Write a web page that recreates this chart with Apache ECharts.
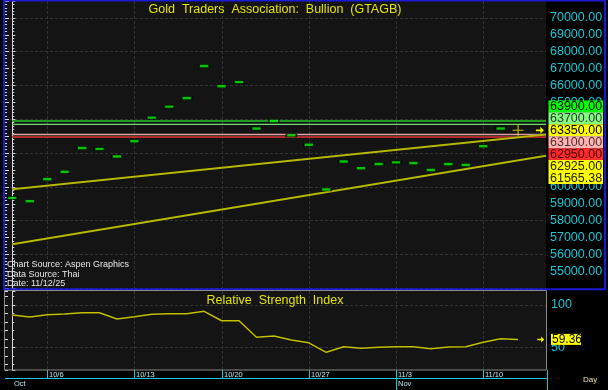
<!DOCTYPE html>
<html><head><meta charset="utf-8">
<script src="https://cdn.jsdelivr.net/npm/echarts@6/dist/echarts.min.js"></script>
<style>html,body{margin:0;padding:0;background:#000;} #c{width:608px;height:390px;}</style>
</head><body><div id="c"></div>
<script>
// ---------- data ----------
const dates = ['10/2','10/3','10/6','10/7','10/8','10/9','10/10','10/13','10/14','10/15','10/16','10/17',
  '10/20','10/21','10/22','10/23','10/24','10/27','10/28','10/29','10/30','10/31',
  '11/3','11/4','11/5','11/6','11/7','11/10','11/11','11/12'];
const prices = [59350, 59150, 60450, 60900, 62300, 62250, 61800, 62700, 64100, 64750, 65250, 67150,
  65950, 66200, 63450, 63900, 63050, 62500, 59850, 61500, 61100, 61350, 61450, 61400, 61000, 61350,
  61300, 62400, 63450, 63350];
const rsi = [88.2, 85.8, 88.5, 89.4, 90.9, 90.9, 83.5, 86.2, 89.0, 89.7, 89.7, 92.5, 81.4, 81.4,
  61.8, 63.4, 58.6, 55.3, 44.1, 50.7, 48.8, 50.0, 50.7, 50.7, 48.3, 50.4, 50.7, 55.9, 60.2, 59.36];
const levels = [63900, 63700, 63100, 62950];
const upperTrend = [[0, 59860], [30.6, 63095]];
const lowerTrend = [[0, 56600], [30.6, 61840]];
const labelValues = [63900, 63700, 63350, 63100, 62950, 62925, 61565.38];
const lastPrice = 63350;
const lastRsi = 59.36;
const weekTickLabels = ['10/6','10/13','10/20','10/27','11/3','11/10'];
const monthStartDates = ['10/2','11/3'];
const monthLabels = ['Oct','Nov'];
const titleText = 'Gold  Traders  Association:  Bullion  (GTAGB)';
const rsiTitle = 'Relative  Strength  Index';
const sourceLines = ['Chart Source: Aspen Graphics', 'Data Source: Thai', 'Date: 11/12/25'];

// ---------- styles ----------
const CYAN = '#18c6d6';
const FONT = '"Liberation Sans", Arial, sans-serif';
const xMin = -0.4186, xMax = 30.6;
const levelColors = ['#1e9a1e', '#6cdc6c', '#e0a0a0', '#b02828'];
const levelWidths = [2, 1.2, 1.5, 2];
const boxFill = ['#00ff00', '#80ff80', '#ffff00', '#ffb4b4', '#ff2a2a', '#ffff00', '#ffff00'];
const boxText = ['#000', '#333', '#000', '#503030', '#400000', '#202000', '#202000'];
const plusPath = 'path://M0,4.5L10,4.5L10,5.5L0,5.5ZM4.5,0L5.5,0L5.5,10L4.5,10Z';
const arrowPath = 'path://M0,3L5,3L5,0L9,4L5,8L5,5L0,5Z';

const weekIdx = weekTickLabels.map(d => dates.indexOf(d));
const monthIdx = monthStartDates.map(d => dates.indexOf(d));

const chart = echarts.init(document.getElementById('c'), null, {renderer: 'canvas'});

const series = [];
levels.forEach((v, k) => {
  series.push({type: 'line', xAxisIndex: 0, yAxisIndex: 0, data: [[0, v], [xMax, v]], symbol: 'none',
    lineStyle: {color: levelColors[k], width: levelWidths[k]}, z: 2, silent: true});
});
[upperTrend, lowerTrend].forEach(t => {
  series.push({type: 'line', xAxisIndex: 0, yAxisIndex: 0, data: t, symbol: 'none',
    lineStyle: {color: '#b8b800', width: 2, shadowColor: 'rgba(0,0,0,0.6)', shadowBlur: 1}, z: 3, silent: true});
});
series.push({type: 'custom', xAxisIndex: 0, yAxisIndex: 0, z: 1, silent: true,
  data: weekIdx.map(i => [i, 60000]),
  renderItem: (params, api) => {
    const x = Math.round(api.coord([api.value(0), 60000])[0]) + 0.5;
    const cs = params.coordSys;
    return {type: 'line', shape: {x1: x, y1: cs.y, x2: x, y2: cs.y + cs.height},
      style: {stroke: '#343434', lineWidth: 1, lineDash: [3, 2]}};
  }});
series.push({type: 'scatter', xAxisIndex: 0, yAxisIndex: 0, z: 5,
  data: prices.map((p, i) => i === prices.length - 1
    ? {value: [i, p], symbol: plusPath, symbolSize: 11, itemStyle: {color: '#f0f000', borderWidth: 0}}
    : {value: [i, p]}),
  symbol: 'rect', symbolSize: [10, 3],
  itemStyle: {color: '#00f000', borderColor: '#000', borderWidth: 1},
  markPoint: {symbol: arrowPath, symbolSize: [8, 7], silent: true, label: {show: false},
    itemStyle: {color: '#f0f000'}, data: [{coord: [xMax - 0.35, lastPrice]}]}
});
series.push({type: 'line', xAxisIndex: 1, yAxisIndex: 2, data: rsi.map((v, i) => [i, v]), symbol: 'none',
  lineStyle: {color: '#c4c000', width: 1.5, shadowColor: 'rgba(0,0,0,0.8)', shadowBlur: 1}, z: 4,
  markPoint: {symbol: arrowPath, symbolSize: [7, 6], silent: true, label: {show: false},
    itemStyle: {color: '#f0f000'}, data: [{coord: [xMax - 0.3, lastRsi]}]}
});
series.push({type: 'custom', xAxisIndex: 1, yAxisIndex: 2, z: 1, silent: true, clip: false,
  data: weekIdx.map(i => [i, 50]),
  renderItem: (params, api) => {
    const x = Math.round(api.coord([api.value(0), 50])[0]) + 0.5;
    const cs = params.coordSys;
    const yb = cs.y + cs.height;
    return {type: 'group', children: [
      {type: 'line', shape: {x1: x, y1: cs.y, x2: x, y2: yb}, style: {stroke: '#343434', lineWidth: 1, lineDash: [3, 2]}},
      {type: 'line', shape: {x1: x, y1: yb, x2: x, y2: yb + 8.5}, style: {stroke: CYAN, lineWidth: 1}},
      {type: 'text', x: x + 1.5, y: yb + 5, style: {text: weekTickLabels[params.dataIndex], fill: '#b8e4ee',
        font: '7.5px ' + FONT, textAlign: 'left', textVerticalAlign: 'middle'}}
    ]};
  }});
series.push({type: 'custom', xAxisIndex: 1, yAxisIndex: 2, z: 1, silent: true, clip: false,
  data: monthIdx.map(i => [i, 50]),
  renderItem: (params, api) => {
    const x = Math.round(api.coord([api.value(0), 50])[0]) + 0.5;
    const cs = params.coordSys;
    const yb = cs.y + cs.height;
    const ch = [{type: 'text', x: x + 1.5, y: yb + 13.5, style: {text: monthLabels[params.dataIndex], fill: '#b8e4ee',
        font: '7.5px ' + FONT, textAlign: 'left', textVerticalAlign: 'middle'}}];
    if (params.dataIndex > 0) ch.push({type: 'line', shape: {x1: x, y1: yb + 8.5, x2: x, y2: yb + 20}, style: {stroke: CYAN, lineWidth: 1}});
    return {type: 'group', children: ch};
  }});

const tickStyle = {color: '#d8d8d8', width: 1};
const option = {
  backgroundColor: '#000',
  animation: false,
  grid: [
    {left: 5, right: 62, top: 1, height: 287.3, show: true, backgroundColor: '#141414', borderWidth: 0},
    {left: 5, right: 62, top: 291, height: 79, show: true, backgroundColor: '#141414', borderWidth: 0}
  ],
  xAxis: [
    {type: 'value', gridIndex: 0, min: xMin, max: xMax, show: false},
    {type: 'value', gridIndex: 1, min: xMin, max: xMax, show: false}
  ],
  yAxis: [
    {type: 'value', gridIndex: 0, position: 'right', min: 54000, max: 71000, interval: 1000,
      axisLine: {show: true, lineStyle: tickStyle},
      axisTick: {show: true, length: 3, lineStyle: tickStyle},
      minorTick: {show: true, splitNumber: 5, length: 2, lineStyle: tickStyle},
      axisLabel: {color: CYAN, fontSize: 12.5, fontFamily: FONT, margin: 4,
        formatter: v => (v >= 55000 && v <= 70000) ? v.toFixed(2) : ''},
      splitLine: {show: true, lineStyle: {color: ['#343434', 'transparent'], type: [3, 2], width: 1}}},
    {type: 'value', gridIndex: 0, position: 'left', min: 54000, max: 71000, interval: 1000,
      axisLine: {show: false}, axisLabel: {show: false}, splitLine: {show: false},
      axisTick: {show: true, inside: true, length: 4, lineStyle: tickStyle},
      minorTick: {show: true, splitNumber: 5, length: 2, lineStyle: tickStyle}},
    {type: 'value', gridIndex: 1, position: 'right', min: 23.17, max: 116.55, minInterval: 50, maxInterval: 50,
      axisLine: {show: true, lineStyle: tickStyle},
      axisTick: {show: true, length: 3, lineStyle: tickStyle},
      minorTick: {show: true, splitNumber: 5, length: 2, lineStyle: tickStyle},
      axisLabel: {color: CYAN, fontSize: 12.5, fontFamily: FONT, margin: 5,
        formatter: v => (Math.abs(v % 50) < 1e-6) ? String(v) : ''},
      splitLine: {show: true, lineStyle: {color: ['transparent', '#343434', '#343434', 'transparent'], type: [3, 2], width: 1}}},
    {type: 'value', gridIndex: 1, position: 'left', min: 23.17, max: 116.55, minInterval: 50, maxInterval: 50,
      axisLine: {show: false}, axisLabel: {show: false}, splitLine: {show: false},
      axisTick: {show: true, inside: true, length: 3, lineStyle: tickStyle},
      minorTick: {show: true, splitNumber: 5, length: 3, lineStyle: tickStyle}}
  ],
  series: series
};
chart.setOption(option);

// ---------- overlay graphics (labels, frames) ----------
const g = [];
const txt = (x, y, text, fill, font, align) => ({type: 'text', x: x, y: y, z: 100,
  style: {text: text, fill: fill, font: font, textAlign: align || 'left', textVerticalAlign: 'middle'}});
g.push({type: 'rect', z: 90, shape: {x: 4, y: 0.5, width: 601, height: 288.7},
  style: {fill: 'none', stroke: '#1a1ad2', lineWidth: 2}});
g.push({type: 'rect', z: 90, shape: {x: 4.5, y: 290.5, width: 542, height: 79.5},
  style: {fill: 'none', stroke: '#8a8a8a', lineWidth: 1}});
g.push({type: 'line', z: 90, shape: {x1: 5, y1: 378.5, x2: 547.5, y2: 378.5}, style: {stroke: CYAN, lineWidth: 1}});
g.push({type: 'line', z: 90, shape: {x1: 547.5, y1: 370, x2: 547.5, y2: 390}, style: {stroke: CYAN, lineWidth: 1}});
g.push(txt(275, 10, titleText, '#e4e400', '12.5px ' + FONT, 'center'));
g.push(txt(275, 301, rsiTitle, '#e4e400', '12.5px ' + FONT, 'center'));
sourceLines.forEach((s, k) => g.push(txt(7, 265 + k * 9.2, s, '#e8e8e8', '9px ' + FONT)));
g.push(txt(583, 380, 'Day', '#e8e0a0', '8px ' + FONT));

const yAnchor = chart.convertToPixel({yAxisIndex: 0}, lastPrice);
const anchorK = labelValues.indexOf(lastPrice);
labelValues.forEach((v, k) => {
  const cy = yAnchor + (k - anchorK) * 11.93;
  g.push({type: 'rect', z: 95, shape: {x: 548.5, y: cy - 6, width: 54.5, height: 12}, style: {fill: boxFill[k]}});
  g.push(txt(550, cy + 0.5, v.toFixed(2), boxText[k], '12.5px ' + FONT));
});
const yR = chart.convertToPixel({yAxisIndex: 2}, lastRsi);
g.push({type: 'rect', z: 95, shape: {x: 551, y: yR - 5.5, width: 30, height: 11}, style: {fill: '#ffff00'}});
g.push(txt(552, yR + 0.5, lastRsi.toFixed(2), '#000', '12px ' + FONT));
chart.setOption({graphic: g});
</script></body></html>
